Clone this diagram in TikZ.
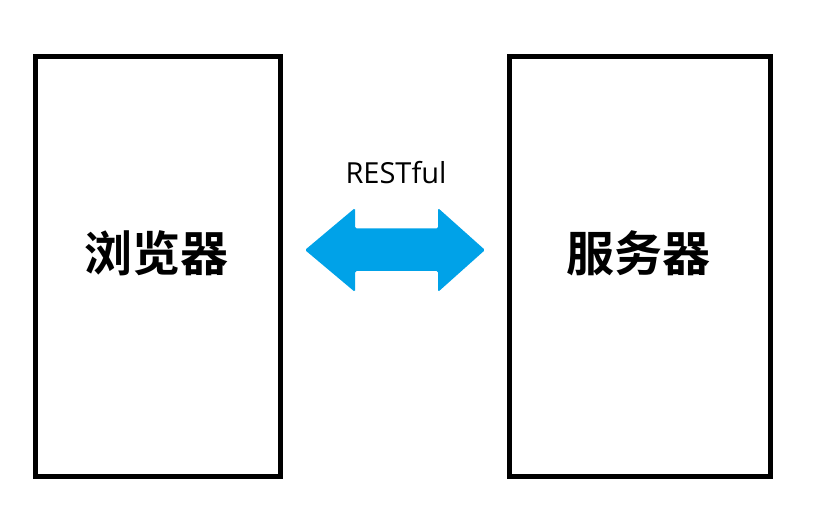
\documentclass[tikz,border=0pt]{standalone}
\usepackage{fontspec}
\setmainfont{Open Sans}
\newfontfamily\cjk{Noto Sans CJK SC}[BoldFont={* Bold}]
\definecolor{arrowblue}{RGB}{0,162,232}
\begin{document}
\begin{tikzpicture}[x=1bp,y=-1bp,
  panel/.style={draw=black,line width=5bp,minimum width=245bp,minimum height=420bp,inner sep=0pt},
  cjklabel/.style={font=\cjk\bfseries\fontsize{48bp}{56bp}\selectfont,inner sep=0pt},
  proto/.style={font=\fontsize{29bp}{34bp}\selectfont,inner sep=0pt}]
\useasboundingbox (0,0) rectangle (815,516);
\node[panel] (browser) at (158.25,266.75) {};
\node[panel,minimum width=261bp] (server) at (640,266.75) {};
\node[cjklabel] (browserlabel) at (156,253) {浏览器};
\node[cjklabel] (serverlabel) at (638,253) {服务器};
\node[proto,anchor=base] (rest) at (396,183.5) {RESTful};
\coordinate (ltip) at (305,250);
\coordinate (rtip) at (485,250);
\fill[arrowblue,rounded corners=1.5bp] (ltip) -- (355,208) -- (355,228.5) -- (438,228.5) -- (438,208) -- (rtip)
  -- (438,292) -- (438,271) -- (355,271) -- (355,292) -- cycle;
\end{tikzpicture}
\end{document}
